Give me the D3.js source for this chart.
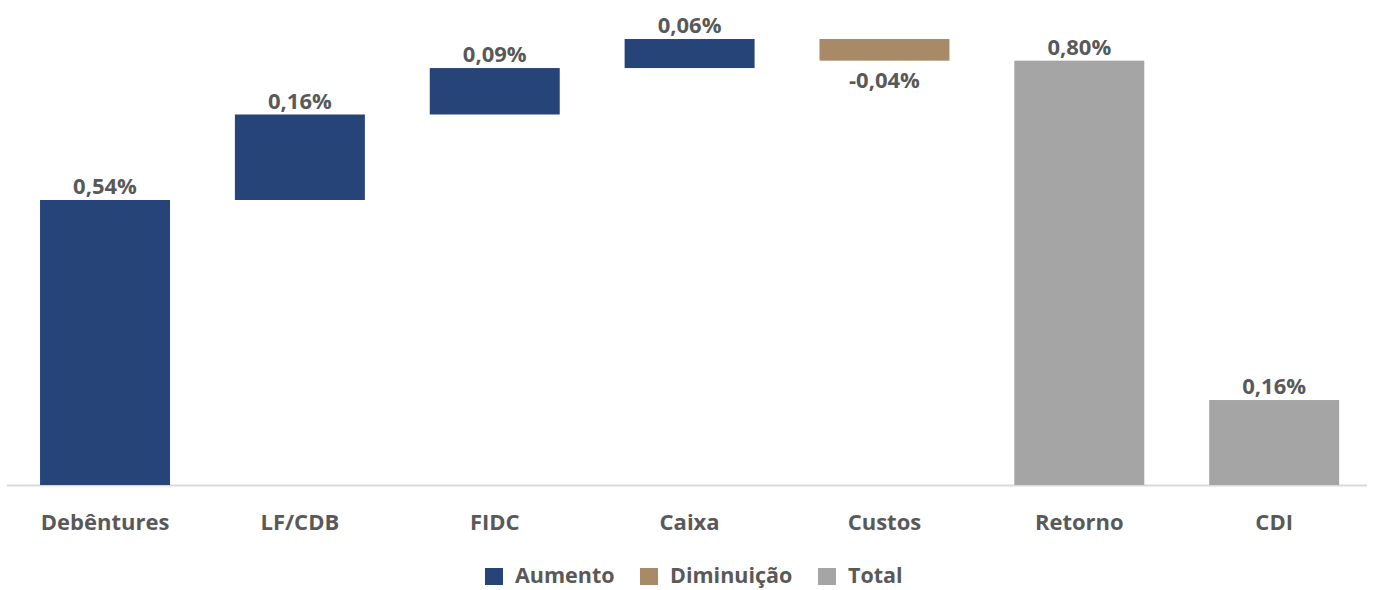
<!DOCTYPE html>
<html>
<head>
<meta charset="utf-8">
<script src="https://cdn.jsdelivr.net/npm/d3@7"></script>
<style>
body { margin: 0; background: #fff; }
svg text { font-family: "Open Sans", sans-serif; font-weight: 700; fill: #595959; }
</style>
</head>
<body>
<svg class="waterfall"></svg>
<script>
var categories = ['Debêntures', 'LF/CDB', 'FIDC', 'Caixa', 'Custos', 'Retorno', 'CDI'];
var values = [0.540, 0.162, 0.088, 0.055, -0.041, 0.804, 0.161];
var kinds = ['Aumento', 'Aumento', 'Aumento', 'Aumento', 'Diminuicao', 'Total', 'Total'];
var legendLabels = ['Aumento', 'Diminuição', 'Total'];
var colors = { Aumento: '#264478', Diminuicao: '#A88A69', Total: '#A5A5A5' };

var width = 1374, height = 590;
var svg = d3.select('svg.waterfall').attr('width', width).attr('height', height);

// running total for the steps, totals start at zero
var run = 0;
var bars = categories.map(function(c, i){
	var v = values[i], y0, y1;
	if (kinds[i] == 'Total') { y0 = 0; y1 = v; }
	else { y0 = run; y1 = run + v; run = y1; }
	return { cat: c, value: v, kind: kinds[i], y0: y0, y1: y1 };
});

var x = d3.scaleBand().domain(categories).range([7.6, 1371.6]).paddingInner(0.333).paddingOuter(0.1665);
var y = d3.scaleLinear().domain([0, 0.54]).range([485, 200]);

svg.append('line')
	.attr('x1', 7).attr('x2', 1367)
	.attr('y1', y(0) + 0.5).attr('y2', y(0) + 0.5)
	.attr('stroke', '#D9D9D9').attr('stroke-width', 2);

svg.selectAll('.bar').data(bars).enter()
	.append('rect')
	.attr('class', 'bar')
	.attr('x', function(d){ return x(d.cat); })
	.attr('width', x.bandwidth())
	.attr('y', function(d){ return y(Math.max(d.y0, d.y1)); })
	.attr('height', function(d){ return Math.abs(y(d.y0) - y(d.y1)); })
	.attr('fill', function(d){ return colors[d.kind]; });

var fmt = function(v){ return d3.format('.2f')(v).replace('.', ',').replace('\u2212', '-') + '%'; };

svg.selectAll('.val').data(bars).enter()
	.append('text')
	.attr('class', 'val')
	.attr('text-anchor', 'middle')
	.attr('font-size', 22)
	.attr('x', function(d){ return x(d.cat) + x.bandwidth() / 2; })
	.attr('y', function(d){
		if (d.value < 0) return y(Math.min(d.y0, d.y1)) + 27;
		return y(Math.max(d.y0, d.y1)) - 6;
	})
	.text(function(d){ return fmt(d.value); });

svg.selectAll('.cat').data(categories).enter()
	.append('text')
	.attr('class', 'cat')
	.attr('text-anchor', 'middle')
	.attr('font-size', 22)
	.attr('x', function(d){ return x(d) + x.bandwidth() / 2; })
	.attr('y', 530)
	.text(function(d){ return d; });

// legend
var legendX = [485, 640, 818];
var lg = svg.selectAll('.legend').data(legendLabels).enter()
	.append('g')
	.attr('class', 'legend')
	.attr('transform', function(d, i){ return 'translate(' + legendX[i] + ',568)'; });
lg.append('rect')
	.attr('width', 18).attr('height', 17)
	.attr('fill', function(d, i){ return colors[['Aumento', 'Diminuicao', 'Total'][i]]; });
lg.append('text')
	.attr('x', 30).attr('y', 15)
	.attr('font-size', 21.5)
	.text(function(d){ return d; });
</script>
</body>
</html>
